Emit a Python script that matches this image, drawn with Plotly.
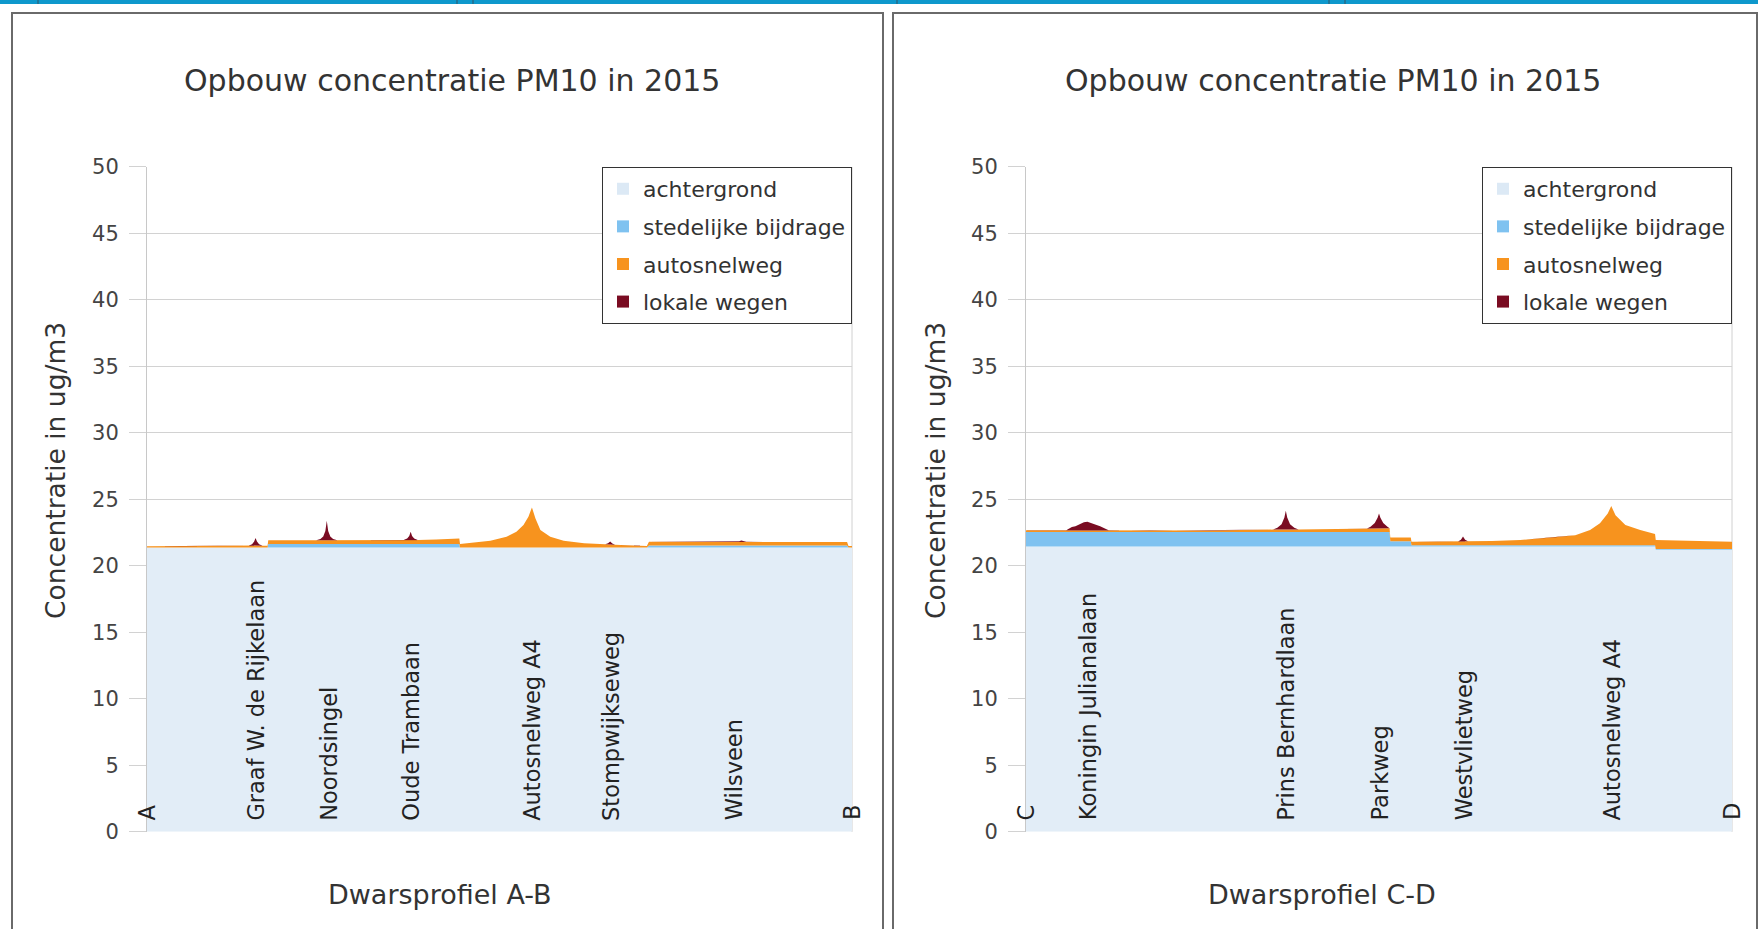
import numpy as np
import plotly.graph_objects as go

# ---------------- data ----------------
series_names = ["achtergrond", "stedelijke bijdrage", "autosnelweg", "lokale wegen"]
series_colors = ["#e2edf7", "#7fc2f0", "#f7931e", "#7a0c22"]
legend_colors = ["#dce9f5", "#7fc2f0", "#f7931e", "#7a0c22"]

# profile A-B (position along profile, 0..100)
ab_x = [0, 4.2, 4.3, 14.4, 14.9, 15.2, 15.4, 15.6, 15.9, 16.4, 17.1, 17.2, 24.0, 24.6, 25.0,
        25.3, 25.5, 25.7, 26.0, 26.4, 27.0, 30.0, 36.4, 36.9, 37.2, 37.4, 37.6, 37.9, 38.4,
        41.0, 44.3, 44.4, 46.3, 48.7, 51.0, 52.4, 53.4, 54.1, 54.6, 55.1, 55.8, 57.2, 59.1,
        62.0, 65.0, 65.4, 65.7, 66.0, 66.4, 68.0, 70.9, 71.2, 76.0, 83.6, 84.0, 84.3, 84.6,
        85.0, 92.0, 99.3, 99.5, 100]
ab_achtergrond = [21.38, 21.38, 21.38, 21.38, 21.38, 21.38, 21.38, 21.38, 21.38, 21.38, 21.38,
                  21.38, 21.38, 21.38, 21.38, 21.38, 21.38, 21.38, 21.38, 21.38, 21.38, 21.38,
                  21.38, 21.38, 21.38, 21.38, 21.38, 21.38, 21.38, 21.38, 21.38, 21.38, 21.38,
                  21.38, 21.38, 21.38, 21.38, 21.38, 21.38, 21.38, 21.38, 21.38, 21.38, 21.38,
                  21.38, 21.38, 21.38, 21.38, 21.38, 21.38, 21.38, 21.38, 21.38, 21.38, 21.38,
                  21.38, 21.38, 21.38, 21.38, 21.38, 21.38, 21.38]
ab_stedelijk = [0, 0, 0, 0, 0, 0, 0, 0, 0, 0, 0,
                0.26, 0.26, 0.26, 0.26, 0.26, 0.26, 0.26, 0.26, 0.26, 0.26, 0.26, 0.26, 0.26,
                0.26, 0.26, 0.26, 0.26, 0.26, 0.26, 0.26,
                0, 0, 0, 0, 0, 0, 0, 0, 0, 0, 0, 0, 0, 0, 0, 0, 0, 0, 0, 0,
                0.15, 0.15, 0.15, 0.15, 0.15, 0.15, 0.15, 0.15, 0.15, 0, 0]
ab_autosnelweg = [0.10, 0.10, 0.14, 0.14, 0.14, 0.15, 0.16, 0.15, 0.14, 0.14, 0.14,
                  0.28, 0.28, 0.28, 0.28, 0.29, 0.30, 0.29, 0.28, 0.28, 0.28, 0.29, 0.30, 0.30,
                  0.31, 0.32, 0.31, 0.30, 0.30, 0.34, 0.42,
                  0.26, 0.36, 0.52, 0.82, 1.19, 1.69, 2.32, 3.02, 2.19, 1.32, 0.82, 0.52, 0.32,
                  0.24, 0.24, 0.23, 0.23, 0.22, 0.18, 0.12,
                  0.28, 0.28, 0.28, 0.28, 0.28, 0.28, 0.28, 0.27, 0.27, 0.12, 0.12]
ab_lokaal = [0, 0, 0, 0, 0.1, 0.3, 0.55, 0.3, 0.1, 0, 0,
             0, 0, 0.1, 0.3, 0.7, 1.46, 0.7, 0.3, 0.1, 0, 0, 0, 0.12,
             0.3, 0.6, 0.3, 0.12, 0, 0, 0,
             0, 0, 0, 0, 0, 0, 0, 0, 0, 0, 0, 0, 0,
             0, 0.08, 0.22, 0.08, 0, 0, 0,
             0, 0, 0, 0.04, 0.1, 0.04, 0, 0, 0, 0, 0]
ab_labels = ["A", "Graaf W. de Rijkelaan", "Noordsingel", "Oude Trambaan",
             "Autosnelweg A4", "Stompwijkseweg", "Wilsveen", "B"]
ab_label_pos = [0, 15.4, 25.7, 37.4, 54.5, 65.8, 83.3, 100]

# profile C-D
cd_x = [0, 5.7, 6.0, 6.5, 7.0, 7.6, 8.2, 8.7, 9.3, 10.0, 10.5, 11.2, 11.7, 17.6, 26.0, 35.0,
        35.6, 36.2, 36.6, 36.8, 37.0, 37.4, 38.0, 38.6, 44.0, 48.3, 48.8, 49.4, 49.8, 50.0,
        50.2, 50.6, 51.2, 51.5, 51.6, 54.5, 54.6, 58.0, 61.2, 61.6, 61.9, 62.2, 62.6, 66.0,
        70.0, 75.0, 77.8, 79.9, 81.3, 82.4, 82.9, 83.5, 84.9, 87.0, 88.7, 89.1, 89.2, 95.0, 100]
cd_achtergrond = [21.45, 21.45, 21.45, 21.45, 21.45, 21.45, 21.45, 21.45, 21.45, 21.45, 21.45,
                  21.45, 21.45, 21.45, 21.45, 21.45, 21.45, 21.45, 21.45, 21.45, 21.45, 21.45,
                  21.45, 21.45, 21.45, 21.45, 21.45, 21.45, 21.45, 21.45, 21.45, 21.45, 21.45,
                  21.45, 21.45, 21.45, 21.45, 21.45, 21.45, 21.45, 21.45, 21.45, 21.45, 21.45,
                  21.45, 21.45, 21.45, 21.45, 21.45, 21.45, 21.45, 21.45, 21.45, 21.45, 21.45,
                  21.45, 21.22, 21.22, 21.22]
cd_stedelijk = [1.10, 1.10, 1.10, 1.10, 1.10, 1.10, 1.10, 1.10, 1.10, 1.10, 1.10, 1.10, 1.10,
                1.10, 1.10, 1.10, 1.10, 1.10, 1.10, 1.10, 1.10, 1.10, 1.10, 1.10, 1.10, 1.10,
                1.10, 1.10, 1.10, 1.10, 1.10, 1.10, 1.10, 1.10,
                0.40, 0.40,
                0.10, 0.10, 0.10, 0.10, 0.10, 0.10, 0.10, 0.10, 0.10, 0.10, 0.10, 0.10, 0.10,
                0.10, 0.10, 0.10, 0.10, 0.10, 0.10, 0.10,
                0.05, 0.05, 0.05]
cd_autosnelweg = [0.13, 0.13, 0.13, 0.13, 0.13, 0.13, 0.13, 0.13, 0.13, 0.13, 0.13, 0.13, 0.13,
                  0.10, 0.12, 0.18, 0.19, 0.19, 0.19, 0.19, 0.19, 0.19, 0.19, 0.19, 0.23, 0.27,
                  0.28, 0.28, 0.28, 0.28, 0.28, 0.28, 0.28, 0.28, 0.29, 0.29, 0.27, 0.28, 0.28,
                  0.29, 0.29, 0.29, 0.30, 0.33, 0.40, 0.60, 0.75, 1.15, 1.65, 2.40, 2.95, 2.25,
                  1.52, 1.15, 0.90, 0.85, 0.68, 0.60, 0.55]
cd_lokaal = [0, 0, 0.1, 0.25, 0.3, 0.48, 0.6, 0.64, 0.55, 0.4, 0.3, 0.1, 0, 0, 0, 0,
             0.12, 0.4, 0.9, 1.41, 0.9, 0.4, 0.12, 0, 0, 0,
             0.12, 0.4, 0.8, 1.12, 0.8, 0.4, 0.12, 0, 0, 0, 0, 0, 0,
             0.12, 0.38, 0.12, 0, 0, 0, 0, 0, 0, 0, 0, 0, 0, 0, 0, 0, 0, 0, 0, 0]
cd_labels = ["C", "Koningin Julianalaan", "Prins Bernhardlaan", "Parkweg",
             "Westvlietweg", "Autosnelweg A4", "D"]
cd_label_pos = [0, 8.8, 36.8, 50.2, 62.0, 83.0, 100]

chart_title = "Opbouw concentratie PM10 in 2015"
y_title = "Concentratie in ug/m3"
x_titles = ["Dwarsprofiel A-B", "Dwarsprofiel C-D"]

# ---------------- layout geometry ----------------
W, H = 1758, 954
FONT = "DejaVu Sans"
VS = 0.975   # vertical scale the page photo applies
VOFF = 0.0   # vertical offset of the page photo


def px(x):
    return x / W


def py(y):
    # y = target pixel row in the photo -> paper coordinate
    fy = (y - VOFF) / VS
    return 1 - fy / H


plot_left = [(147, 852), (1026, 1732)]
plot_top, plot_bot = 167, 832

fig = go.Figure()

charts = [
    (ab_x, [ab_achtergrond, ab_stedelijk, ab_autosnelweg, ab_lokaal], ab_labels, ab_label_pos, "x", "y", "legend"),
    (cd_x, [cd_achtergrond, cd_stedelijk, cd_autosnelweg, cd_lokaal], cd_labels, cd_label_pos, "x2", "y2", "legend2"),
]

annotations = []
for ci, (xs, comps, labels, lpos, xa, ya, lg) in enumerate(charts):
    cum = np.cumsum(np.array(comps, dtype=float), axis=0)
    for si in range(4):
        fig.add_trace(go.Scatter(
            x=xs, y=cum[si], mode="lines",
            line=dict(width=0, color=series_colors[si]),
            fill="tozeroy" if si == 0 else "tonexty",
            fillcolor=series_colors[si],
            xaxis=xa, yaxis=ya, showlegend=False, hoverinfo="skip"))
    for si in range(4):
        fig.add_trace(go.Scatter(
            x=[None], y=[None], mode="markers", name=series_names[si],
            marker=dict(symbol="square", size=12, color=legend_colors[si]),
            xaxis=xa, yaxis=ya, legend=lg, legendgroup=f"{lg}{si}", showlegend=True))
    xr = "x" if ci == 0 else "x2"
    yr = "y" if ci == 0 else "y2"
    for lab, pos in zip(labels, lpos):
        annotations.append(dict(
            x=pos, y=0.7, xref=xr, yref=yr, text=lab, textangle=-90,
            showarrow=False, xanchor="center", yanchor="bottom",
            font=dict(family=FONT, size=22.5, color="#222")))

# titles
title_cx = [452, 1333]
ytitle_cx = [56, 936]
xtitle_cx = [440, 1322]
for ci in range(2):
    annotations.append(dict(x=px(title_cx[ci]), y=py(81), xref="paper", yref="paper",
                            text=chart_title, showarrow=False, xanchor="center", yanchor="middle",
                            font=dict(family=FONT, size=30, color="#333")))
    annotations.append(dict(x=px(ytitle_cx[ci]), y=py(471), xref="paper", yref="paper",
                            text=y_title, showarrow=False, textangle=-90,
                            xanchor="center", yanchor="middle",
                            font=dict(family=FONT, size=26.5, color="#333")))
    annotations.append(dict(x=px(xtitle_cx[ci]), y=py(895), xref="paper", yref="paper",
                            text=x_titles[ci], showarrow=False, xanchor="center", yanchor="middle",
                            font=dict(family=FONT, size=27, color="#333")))

shapes = []
# top blue bar
shapes.append(dict(type="rect", xref="paper", yref="paper", x0=0, x1=1, y0=py(4), y1=1,
                   fillcolor="#0e98cc", line=dict(width=0), layer="above"))
for sx in [38, 457, 473, 897, 1329, 1345]:
    shapes.append(dict(type="line", xref="paper", yref="paper", x0=px(sx), x1=px(sx),
                       y0=py(4), y1=1, line=dict(color="#335566", width=1)))
# panel borders (open at the bottom, they continue below the visible area)
panel_edges = [(12, 883), (893, 1757)]
for (l, r) in panel_edges:
    shapes.append(dict(type="path", xref="paper", yref="paper",
                       path=f"M {px(l)},0 L {px(l)},{py(13)} L {px(r)},{py(13)} L {px(r)},0",
                       line=dict(color="#6a6a6a", width=2)))
# right edge line of plot areas
for (l, r) in plot_left:
    shapes.append(dict(type="line", xref="paper", yref="paper", x0=px(r), x1=px(r),
                       y0=py(plot_bot), y1=py(plot_top), line=dict(color="#d0d0d0", width=1),
                       layer="below"))

axis_common_x = dict(range=[0, 100], showgrid=False, showticklabels=False, zeroline=False,
                     showline=False, ticks="", fixedrange=True)
axis_common_y = dict(range=[0, 50], dtick=5, tick0=0, showgrid=True, gridcolor="#d2d2d2",
                     gridwidth=1, ticks="outside", ticklen=17, tickcolor="#d2d2d2",
                     showline=True, linecolor="#c8c8c8", linewidth=1, zeroline=False,
                     tickfont=dict(family=FONT, size=21, color="#444"),
                     ticklabelstandoff=6)

legend_common = dict(bgcolor="white", bordercolor="#333", borderwidth=1,
                     font=dict(family=FONT, size=22, color="#333"),
                     traceorder="grouped", tracegroupgap=6, yanchor="top", xanchor="right",
                     itemclick=False)

fig.update_layout(
    width=W, height=H, margin=dict(l=0, r=0, t=0, b=0),
    paper_bgcolor="white", plot_bgcolor="white",
    xaxis=dict(domain=[px(147), px(852)], anchor="y", **axis_common_x),
    yaxis=dict(domain=[py(plot_bot), py(plot_top)], anchor="x", **axis_common_y),
    xaxis2=dict(domain=[px(1026), px(1732)], anchor="y2", **axis_common_x),
    yaxis2=dict(domain=[py(plot_bot), py(plot_top)], anchor="x2", **axis_common_y),
    legend=dict(x=px(852), y=py(plot_top), **legend_common),
    legend2=dict(x=px(1732), y=py(plot_top), **legend_common),
    annotations=annotations, shapes=shapes,
)

page_fix = (
    "document.documentElement.style.margin='0';"
    "document.documentElement.style.overflow='hidden';"
    "document.body.style.margin='0';document.body.style.padding='0';"
    "var gd=document.getElementById('{plot_id}');"
    "gd.style.position='absolute';gd.style.left='0px';gd.style.top='-12px';"
)

fig.write_html("out.html", post_script=page_fix, config={"displayModeBar": False})
